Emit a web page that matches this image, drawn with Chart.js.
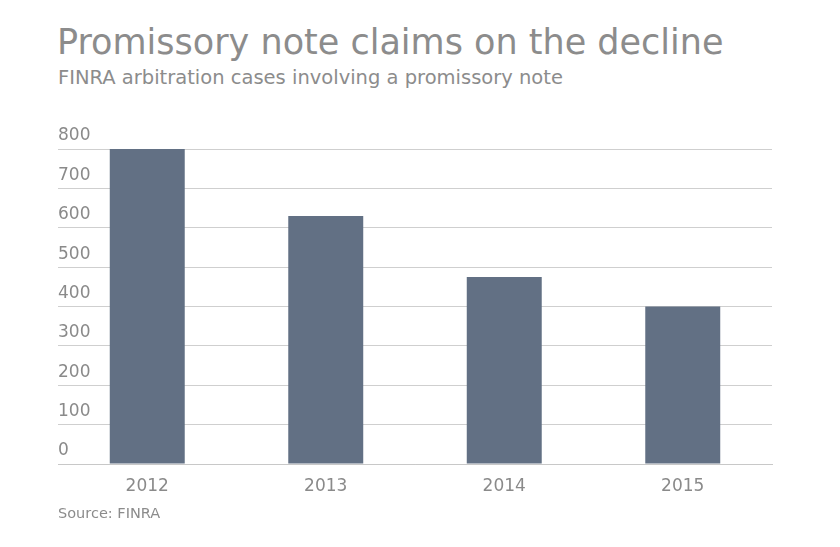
<!DOCTYPE html>
<html><head><meta charset="utf-8">
<script src="https://cdn.jsdelivr.net/npm/chart.js@4"></script>
<style>
body{margin:0;background:#fff;font-family:"DejaVu Sans",Verdana,sans-serif;color:#8a8a8a;}
#t{position:absolute;left:57px;top:22px;font-size:35px;color:#8c8c8c;white-space:nowrap;}
#s{position:absolute;left:58px;top:66px;font-size:19.5px;color:#8c8c8c;white-space:nowrap;}
#src{position:absolute;left:58px;top:505px;font-size:14.5px;color:#8c8c8c;}
#wrap{position:absolute;left:0;top:110px;width:840px;height:400px;}
</style></head><body>
<div id="t">Promissory note claims on the decline</div>
<div id="s">FINRA arbitration cases involving a promissory note</div>
<div id="wrap"><canvas id="c"></canvas></div>
<div id="src">Source: FINRA</div>
<script>
const years = ['2012', '2013', '2014', '2015'];
const cases = [800, 630, 475, 400];

new Chart(document.getElementById('c'), {
  type: 'bar',
  data: {
    labels: years,
    datasets: [{
      data: cases,
      backgroundColor: '#627084',
      barPercentage: 0.42,
      categoryPercentage: 1
    }]
  },
  options: {
    maintainAspectRatio: false,
    animation: false,
    layout: { padding: { left: 58, right: 68, top: 39, bottom: 0 } },
    plugins: { legend: { display: false }, tooltip: { enabled: false } },
    scales: {
      x: {
        grid: { display: false },
        border: { color: '#c8c8c8' },
        ticks: { color: '#8a8a8a', font: { family: 'DejaVu Sans', size: 17 }, padding: 4 },
        afterFit: s => { s.height = 46; }
      },
      y: {
        min: 0, max: 800,
        border: { display: false },
        grid: { color: '#cfcfcf', drawTicks: false },
        ticks: {
          stepSize: 100, mirror: true, padding: 0, labelOffset: -13,
          color: '#8a8a8a', font: { family: 'DejaVu Sans', size: 17 }
        },
        afterFit: s => { s.width = 0; }
      }
    }
  }
});
</script>
</body></html>
